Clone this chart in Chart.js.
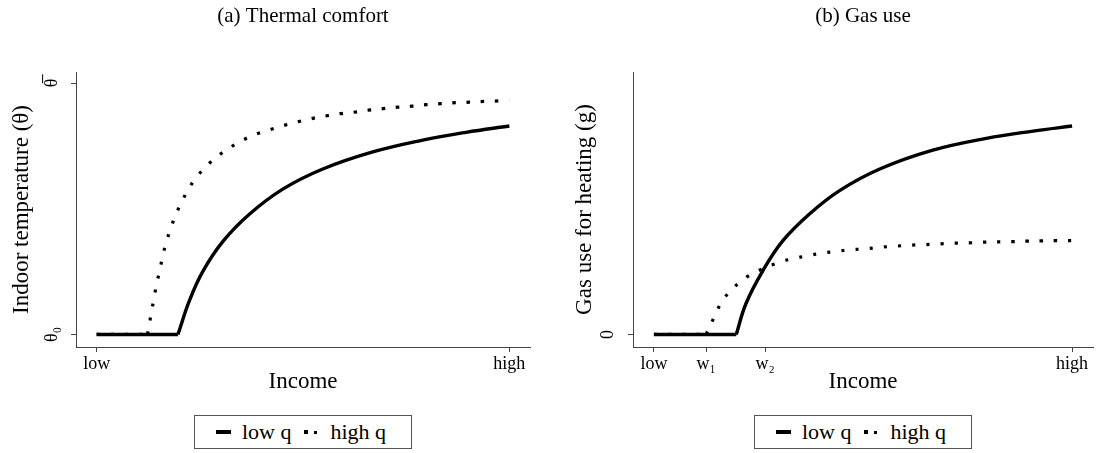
<!DOCTYPE html>
<html>
<head>
<meta charset="utf-8">
<script src="https://cdn.jsdelivr.net/npm/chart.js@4/dist/chart.umd.min.js"></script>
<style>
  html, body { margin: 0; padding: 0; background: #fff; }
  body { width: 1097px; height: 453px; position: relative; overflow: hidden; font-family: "Liberation Serif", serif; }
  .panel { position: absolute; top: 0; height: 400px; }
  #panelA { left: 0; width: 550px; }
  #panelB { left: 550px; width: 547px; }
  .legend { position: absolute; top: 415px; width: 218px; height: 34px; box-sizing: border-box;
            border: 1px solid #555; display: flex; align-items: center; font-size: 22px; color: #000; white-space: nowrap; }
  #legendA { left: 194px; }
  #legendB { left: 754px; }
  .sw-solid { display: inline-block; width: 15px; height: 4px; background: #000; margin-left: 21px; margin-right: 11px; }
  .sw-dots { display: inline-flex; align-items: center; margin-left: 12px; margin-right: 14px; }
  .sw-dots i { display: inline-block; width: 4px; height: 4px; background: #000; }
  .sw-dots i + i { width: 3px; height: 3px; margin-left: 6px; }
</style>
</head>
<body>
<div class="panel" id="panelA"><canvas id="chartA"></canvas></div>
<div class="panel" id="panelB"><canvas id="chartB"></canvas></div>
<div class="legend" id="legendA"><span class="sw-solid"></span><span>low q</span><span class="sw-dots"><i></i><i></i></span><span>high q</span></div>
<div class="legend" id="legendB"><span class="sw-solid"></span><span>low q</span><span class="sw-dots"><i></i><i></i></span><span>high q</span></div>
<script>
// Income axis: "low" = 0, "high" = 1
const incomeTicksA = [0, 1];
const incomeLabelsA = ['low', 'high'];
const incomeTicksB = [0, 0.125, 0.266, 1];
const incomeLabelsB = ['low', 'w\u2081', 'w\u2082', 'high'];

// Indoor temperature axis: θ0 = 0, θ̄ = 1
const tempTicks = [0, 1];
const tempLabels = ['\u03B8\u2080', '\u03B8\u0305'];
const gasTicks = [0];
const gasLabels = ['0'];

// (a) Thermal comfort, low q
const tempLowQ = [
  [0, 0], [0.197, 0], [0.225, 0.135], [0.257, 0.250], [0.306, 0.370], [0.370, 0.478],
  [0.451, 0.578], [0.548, 0.658], [0.669, 0.726], [0.790, 0.773], [0.895, 0.804], [1.0, 0.829]
];
// (a) Thermal comfort, high q
const tempHighQ = [
  [0, 0], [0.123, 0], [0.127, 0.029], [0.132, 0.085], [0.139, 0.142], [0.145, 0.199],
  [0.153, 0.255], [0.160, 0.312], [0.169, 0.368], [0.180, 0.424], [0.192, 0.477], [0.207, 0.530],
  [0.223, 0.580], [0.243, 0.627], [0.267, 0.671], [0.293, 0.709], [0.322, 0.742], [0.353, 0.772],
  [0.385, 0.796], [0.417, 0.813], [0.451, 0.830], [0.485, 0.845], [0.519, 0.858], [0.554, 0.869],
  [0.588, 0.878], [0.623, 0.884], [0.658, 0.892], [0.693, 0.898], [0.729, 0.904], [0.764, 0.908],
  [0.798, 0.914], [0.833, 0.918], [0.869, 0.922], [0.903, 0.924], [0.938, 0.927], [0.973, 0.929],
  [1.0, 0.931]
];
// (b) Gas use, low q
const gasLowQ = [
  [0, 0], [0.197, 0], [0.220, 0.122], [0.260, 0.252], [0.308, 0.372], [0.372, 0.479],
  [0.444, 0.572], [0.540, 0.658], [0.667, 0.733], [0.795, 0.780], [0.907, 0.809], [1.0, 0.829]
];
// (b) Gas use, high q
const gasHighQ = [
  [0, 0], [0.125, 0], [0.132, 0.025], [0.146, 0.076], [0.162, 0.129], [0.184, 0.175],
  [0.209, 0.212], [0.238, 0.244], [0.301, 0.288], [0.336, 0.302], [0.370, 0.314], [0.405, 0.324],
  [0.439, 0.331], [0.473, 0.337], [0.508, 0.341], [0.543, 0.347], [0.577, 0.351], [0.612, 0.355],
  [0.646, 0.357], [0.681, 0.360], [0.715, 0.363], [0.751, 0.364], [0.785, 0.367], [0.819, 0.368],
  [0.855, 0.369], [0.890, 0.371], [0.925, 0.372], [0.959, 0.373], [1.0, 0.373]
];

const SERIF = '"Liberation Serif", "DejaVu Serif", serif';
const AXIS_COLOR = '#444';

function toPoints(pairs) { return pairs.map(p => ({ x: p[0], y: p[1] })); }

// A curve is flat at zero up to its threshold income, then rises smoothly.
// The flat piece is drawn straight, the rising piece as a spline,
// so the corner at the threshold stays sharp.
function pieces(pairs) {
  let k = 0;
  while (k + 1 < pairs.length && pairs[k + 1][1] === 0) k++;
  return { flat: pairs.slice(0, k + 1), rise: pairs.slice(k) };
}

function seriesDatasets(label, pairs, style, order) {
  const p = pieces(pairs);
  const base = Object.assign({ borderColor: '#000', pointRadius: 0, fill: false, order: order }, style);
  return [
    Object.assign({}, base, { label: label, data: toPoints(p.flat), tension: 0 }),
    Object.assign({}, base, { label: label, data: toPoints(p.rise), tension: 0.4 })
  ];
}

function makePanel(canvasId, cfg) {
  const ctx = document.getElementById(canvasId);
  const solid = { borderWidth: 3.4, borderJoinStyle: 'round' };
  const dotted = { borderWidth: 3.2, borderDash: [3.2, 11], borderCapStyle: 'butt' };
  return new Chart(ctx, {
    type: 'line',
    data: {
      datasets: seriesDatasets('low q', cfg.low, solid, 2).concat(seriesDatasets('high q', cfg.high, dotted, 1))
    },
    options: {
      responsive: false,
      animation: false,
      devicePixelRatio: 1,
      layout: { padding: { left: 0, right: cfg.padRight, top: 0, bottom: 0 } },
      plugins: {
        legend: { display: false },
        tooltip: { enabled: false },
        title: {
          display: true, text: cfg.title, fullSize: false, color: '#000',
          font: { family: SERIF, size: 21, weight: 'normal', lineHeight: 1.2 },
          padding: { top: 4, bottom: 42.8 }
        }
      },
      scales: {
        x: {
          type: 'linear', min: -0.05, max: 1.05,
          afterBuildTicks: s => { s.ticks = cfg.xTicks.map(v => ({ value: v })); },
          afterFit: s => { s.height = 53; },
          ticks: {
            color: '#000', font: { family: SERIF, size: 18 }, padding: 1, maxRotation: 0, autoSkip: false,
            callback: v => cfg.xLabels[cfg.xTicks.indexOf(v)]
          },
          grid: { display: true, drawOnChartArea: false, drawTicks: true, tickLength: 5, color: AXIS_COLOR, lineWidth: 1 },
          border: { display: true, color: AXIS_COLOR, width: 1 },
          title: { display: true, text: 'Income', color: '#000',
                   font: { family: SERIF, size: 23, lineHeight: 1.2 }, padding: { top: 0, bottom: 4 } }
        },
        y: {
          type: 'linear', min: -0.05, max: 1.044,
          afterBuildTicks: s => { s.ticks = cfg.yTicks.map(v => ({ value: v })); },
          afterFit: s => { s.width = cfg.yWidth; },
          ticks: {
            color: '#000', font: { family: SERIF, size: 18 }, padding: cfg.yPad,
            minRotation: 90, maxRotation: 90, crossAlign: 'center', autoSkip: false,
            callback: v => cfg.yLabels[cfg.yTicks.indexOf(v)]
          },
          grid: { display: true, drawOnChartArea: false, drawTicks: true, tickLength: 5, color: AXIS_COLOR, lineWidth: 1 },
          border: { display: true, color: AXIS_COLOR, width: 1 },
          title: { display: true, text: cfg.yTitle, color: '#000',
                   font: { family: SERIF, size: 23, lineHeight: 1.2 }, padding: { top: cfg.yTitlePad, bottom: 0 } }
        }
      }
    }
  });
}

const cA = document.getElementById('chartA'); cA.width = 550; cA.height = 400;
const cB = document.getElementById('chartB'); cB.width = 547; cB.height = 400;

makePanel('chartA', {
  title: '(a) Thermal comfort', low: tempLowQ, high: tempHighQ,
  xTicks: incomeTicksA, xLabels: incomeLabelsA, yTicks: tempTicks, yLabels: tempLabels,
  yTitle: 'Indoor temperature (\u03B8)', yWidth: 76, yPad: 11, yTitlePad: 8, padRight: 20
});
makePanel('chartB', {
  title: '(b) Gas use', low: gasLowQ, high: gasHighQ,
  xTicks: incomeTicksB, xLabels: incomeLabelsB, yTicks: gasTicks, yLabels: gasLabels,
  yTitle: 'Gas use for heating (g)', yWidth: 83, yPad: 15, yTitlePad: 21, padRight: 4
});
</script>
</body>
</html>
